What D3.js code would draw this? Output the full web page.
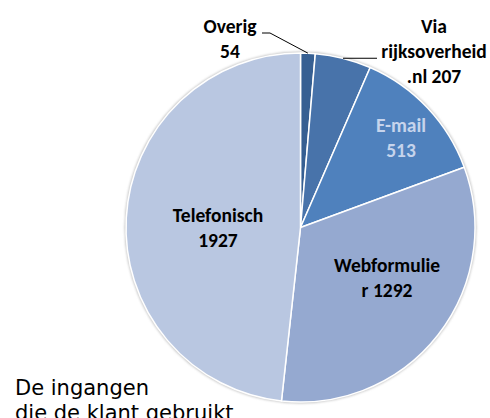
<!DOCTYPE html>
<html>
<head>
<meta charset="utf-8">
<script src="https://cdn.jsdelivr.net/npm/d3@7"></script>
<style>
  body { margin: 0; background: #fff; overflow: hidden; }
  svg { display: block; }
</style>
</head>
<body>
<div id="chart"></div>
<script>
// slices, clockwise from 12 o'clock
const categories = ["Overig", "Via rijksoverheid.nl", "E-mail", "Webformulier", "Telefonisch"];
const values = [54, 207, 513, 1292, 1927];
// label text as broken in the original
const labelLines = [
    ["Overig", "54"],
    ["Via", "rijksoverheid", ".nl 207"],
    ["E-mail", "513"],
    ["Webformulie", "r 1292"],
    ["Telefonisch", "1927"]
];
const titleLines = ["De ingangen", "die de klant gebruikt"];

const colors = ["#365f92", "#4873aa", "#4f81bd", "#95a9d0", "#b9c7e1"];
const labelColors = ["#000", "#000", "#c6d4ec", "#000", "#000"];

let width = 490, height = 418;
let cx = 300.5, cy = 227.5, r = 174.5;

let svg = d3.select("#chart").append("svg")
    .attr("width", width)
    .attr("height", height);

let defs = svg.append("defs");
let f = defs.append("filter").attr("id", "shadow")
    .attr("x", "-10%").attr("y", "-10%").attr("width", "120%").attr("height", "120%");
f.append("feGaussianBlur").attr("stdDeviation", 1.2);

let g = svg.append("g").attr("transform", `translate(${cx},${cy})`);

// soft edge shadow
g.append("circle")
    .attr("r", r + 1.5)
    .attr("fill", "#c8c8c8")
    .attr("filter", "url(#shadow)");

let pie = d3.pie().sort(null).value(d => d);
let arcs = pie(values);
let arc = d3.arc().innerRadius(0).outerRadius(r);

g.selectAll("path.slice")
    .data(arcs)
    .join("path")
    .attr("class", "slice")
    .attr("d", arc)
    .attr("fill", (d, i) => colors[i])
    .attr("stroke", "#fff")
    .attr("stroke-width", 1.5)
    .attr("stroke-linejoin", "round");

// label anchors (page coords, first baseline) and line spacing
const labelPos = [
    [230, 33], [434, 33], [401, 132], [387, 272], [218, 222]
];
const lineH = 25;

let fontStack = "Carlito, Calibri, Lato, 'Open Sans', sans-serif";

labelLines.forEach((lines, i) => {
    let t = svg.append("text")
        .attr("text-anchor", "middle")
        .attr("font-family", fontStack)
        .attr("font-weight", "bold")
        .attr("font-size", 19.5)
        .attr("fill", labelColors[i]);
    lines.forEach((s, k) => {
        t.append("tspan")
            .attr("x", labelPos[i][0])
            .attr("y", labelPos[i][1] + k * lineH)
            .text(s);
    });
});

// leader lines
let pt = a => [cx + r * Math.sin(a), cy - r * Math.cos(a)];
let mid0 = (arcs[0].startAngle + arcs[0].endAngle) / 2;
let p0 = pt(mid0);
svg.append("path")
    .attr("d", `M262,33 L270,33 L${p0[0]},${p0[1]}`)
    .attr("fill", "none").attr("stroke", "#000").attr("stroke-width", 1);

let a1 = Math.asin((343 - cx) / r);
let p1 = pt(a1);
svg.append("path")
    .attr("d", `M377,${p1[1]} L${p1[0]},${p1[1]}`)
    .attr("fill", "none").attr("stroke", "#000").attr("stroke-width", 1);

// title in bottom-left
let tt = svg.append("text")
    .attr("font-family", "'DejaVu Sans', Verdana, sans-serif")
    .attr("font-size", 21)
    .attr("fill", "#000");
titleLines.forEach((s, k) => {
    tt.append("tspan").attr("x", 15).attr("y", 395 + k * 25).text(s);
});
</script>
</body>
</html>
